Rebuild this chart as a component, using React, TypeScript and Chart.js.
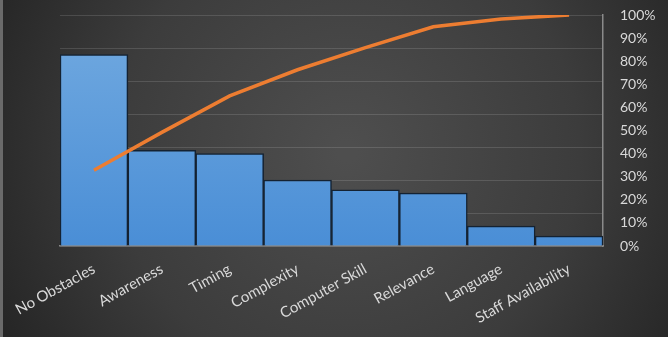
import React, { useEffect, useRef } from "react";
import { Chart, registerables } from "chart.js";

Chart.register(...registerables);

const categories = [
  "No Obstacles",
  "Awareness",
  "Timing",
  "Complexity",
  "Computer Skill",
  "Relevance",
  "Language",
  "Staff Availability",
];
const counts = [58, 29, 28, 20, 17, 16, 6, 3];
const cumulativePct = [32.8, 49.2, 65.0, 76.3, 85.9, 94.9, 98.3, 100];
const pctTicks = [0, 10, 20, 30, 40, 50, 60, 70, 80, 90, 100];

const bgPlugin = {
  id: "bgPlugin",
  beforeDraw(chart: any) {
    const { ctx, width, height } = chart;
    ctx.save();
    const g = ctx.createRadialGradient(width * 0.52, height * 0.45, 10, width * 0.52, height * 0.45, width * 0.62);
    g.addColorStop(0, "#4e4e4e");
    g.addColorStop(0.55, "#3c3c3c");
    g.addColorStop(1, "#222222");
    ctx.fillStyle = g;
    ctx.fillRect(0, 0, width, height);
    ctx.fillStyle = "#6a6a6a";
    ctx.fillRect(0, 0, 3, height);
    ctx.restore();
  },
};

export default function App() {
  const ref = useRef<HTMLCanvasElement>(null);
  useEffect(() => {
    if (!ref.current) return;
    const font = { family: "Lato, 'Open Sans', sans-serif", size: 14 };
    const chart = new Chart(ref.current, {
      type: "bar",
      data: {
        labels: categories,
        datasets: [
          {
            type: "line",
            data: cumulativePct,
            yAxisID: "y1",
            borderColor: "#ED7D31",
            borderWidth: 3.5,
            pointRadius: 0,
            tension: 0,
            order: 0,
          } as any,
          {
            type: "bar",
            data: counts,
            yAxisID: "y",
            backgroundColor: (c: any) => {
              const area = c.chart.chartArea;
              if (!area) return "#5b9bd5";
              const g = c.chart.ctx.createLinearGradient(0, area.top, 0, area.bottom);
              g.addColorStop(0, "#72aae0");
              g.addColorStop(1, "#4a8ed6");
              return g;
            },
            borderColor: "#142232",
            borderWidth: 1.5,
            barPercentage: 1,
            categoryPercentage: 1,
            order: 1,
          },
        ],
      },
      options: {
        responsive: false,
        animation: false,
        layout: { padding: { top: 15, left: 0, right: 0, bottom: 0 } },
        plugins: { legend: { display: false }, tooltip: { enabled: false } },
        scales: {
          x: {
            grid: { display: false },
            border: { display: true, color: "#8a8a8a", width: 1.5 },
            ticks: {
              color: "#d9d9d9",
              font: { family: "Lato, 'Open Sans', sans-serif", size: 15 },
              minRotation: 29,
              maxRotation: 29,
              padding: 6,
              autoSkip: false,
            },
            afterFit: (s: any) => {
              s.height = 91;
            },
          },
          y: {
            position: "left",
            min: 0,
            max: 70,
            ticks: { display: false, stepSize: 10 },
            grid: { color: "rgba(255,255,255,0.13)", lineWidth: 1, drawTicks: false },
            border: { display: false },
            afterFit: (s: any) => {
              s.width = 60;
              s.paddingTop = 0;
              s.paddingBottom = 0;
            },
          },
          y1: {
            position: "right",
            min: 0,
            max: 100,
            afterBuildTicks: (s: any) => {
              s.ticks = pctTicks.map((v) => ({ value: v }));
            },
            ticks: {
              color: "#d9d9d9",
              font,
              padding: 9,
              callback: (v: any) => v + "%",
            },
            grid: { display: false },
            border: { display: true, color: "#8a8a8a", width: 1.5 },
            afterFit: (s: any) => {
              s.width = 65;
              s.paddingTop = 0;
              s.paddingBottom = 0;
            },
          },
        },
      },
      plugins: [bgPlugin],
    });
    return () => chart.destroy();
  }, []);
  return (
    <div style={{ position: "fixed", left: 0, top: 0, width: 668, height: 337 }}>
      <canvas ref={ref} width={668} height={337} style={{ display: "block" }} />
    </div>
  );
}
